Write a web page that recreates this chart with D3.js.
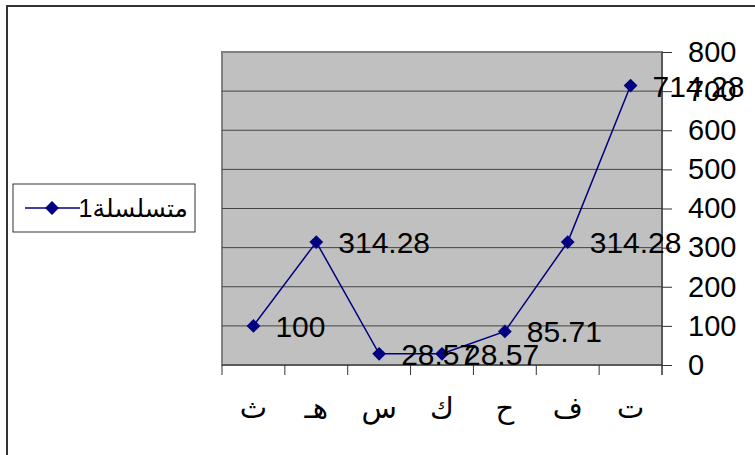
<!DOCTYPE html>
<html>
<head>
<meta charset="utf-8">
<script src="https://cdn.jsdelivr.net/npm/d3@7"></script>
<style>
body{margin:0;background:#fff;}
text{font-family:"Liberation Sans",Arial,"DejaVu Sans",sans-serif;}
</style>
</head>
<body>
<svg id="chart" width="755" height="455"></svg>
<script>
// categories are shown right to left, so ت sits on the far right
var categories = ["ث","هـ","س","ك","ح","ف","ت"];
var values = [100, 314.28, 28.57, 28.57, 85.71, 314.28, 714.28];
var labels = ["100","314.28","28.57","28.57","85.71","314.28","714.28"];
var yTicks = [0,100,200,300,400,500,600,700,800];
var seriesName = "متسلسلة1";

var svg = d3.select("#chart");
var plotLeft = 222, plotRight = 662, plotTop = 52, plotBottom = 365;

// outer chart border (only left/top visible)
svg.append("path")
    .attr("d","M7,455 L7,6 L755,6")
    .attr("fill","none").attr("stroke","#333").attr("stroke-width",2);

var x = d3.scaleBand().domain(categories).range([plotLeft,plotRight]);
var y = d3.scaleLinear().domain([0,800]).range([plotBottom,plotTop]);

svg.append("rect")
    .attr("x",plotLeft).attr("y",plotTop)
    .attr("width",plotRight-plotLeft).attr("height",plotBottom-plotTop)
    .attr("fill","#c0c0c0").attr("stroke","#808080").attr("stroke-width",2);

//gridlines
svg.selectAll(".grid")
    .data(yTicks.slice(1,-1)).enter().append("line")
    .attr("x1",plotLeft).attr("x2",plotRight)
    .attr("y1",function(d){return y(d)}).attr("y2",function(d){return y(d)})
    .attr("stroke","#444").attr("stroke-width",1);

// y axis on right
var yAxis = d3.axisRight(y).tickValues(yTicks).tickSize(10).tickFormat(d3.format("d"));
var gy = svg.append("g").attr("transform","translate("+plotRight+",0)").call(yAxis);
gy.select(".domain").attr("stroke","#333").attr("d","M0,"+plotTop+"V"+(plotBottom+10));
gy.selectAll(".tick line").attr("stroke","#333");
gy.selectAll(".tick text").attr("x",26).attr("fill","#000")
    .style("font-size","29px").style("font-family","'Liberation Sans',Arial,sans-serif");

// x axis
var gx = svg.append("g").attr("transform","translate(0,"+plotBottom+")");
gx.append("line").attr("x1",plotLeft).attr("x2",plotRight).attr("stroke","#333");
var bounds = categories.map(function(c){return x(c)}).concat([plotRight]);
gx.selectAll(".bt").data(bounds).enter().append("line")
    .attr("x1",function(d){return d}).attr("x2",function(d){return d})
    .attr("y1",0).attr("y2",10).attr("stroke","#333");

svg.selectAll(".cat").data(categories).enter().append("text")
    .attr("x",function(d){return x(d)+x.bandwidth()/2})
    .attr("y",418)
    .attr("text-anchor","middle")
    .style("font-size","29px")
    .text(function(d){return d});

// series
var cx = function(d,i){return x(categories[i])+x.bandwidth()/2};
var line = d3.line().x(cx).y(function(d){return y(d)});
svg.append("path").datum(values)
    .attr("d",line).attr("fill","none").attr("stroke","#000080").attr("stroke-width",1.5);

var diamond = d3.symbol().type(d3.symbolSquare).size(95);
svg.selectAll(".pt").data(values).enter().append("path")
    .attr("d",diamond)
    .attr("transform",function(d,i){return "translate("+cx(d,i)+","+y(d)+") rotate(45)"})
    .attr("fill","#000080");

svg.selectAll(".lbl").data(values).enter().append("text")
    .attr("x",function(d,i){return cx(d,i)+22})
    .attr("y",function(d){return y(d)+11})
    .style("font-size","30px")
    .text(function(d,i){return labels[i]});

// legend
var lg = svg.append("g");
lg.append("rect").attr("x",13).attr("y",184).attr("width",182).attr("height",48)
    .attr("fill","#fff").attr("stroke","#333").attr("stroke-width",1);
lg.append("line").attr("x1",25).attr("x2",80).attr("y1",208).attr("y2",208)
    .attr("stroke","#000080").attr("stroke-width",1.5);
lg.append("path").attr("d",diamond).attr("transform","translate(52,208) rotate(45)").attr("fill","#000080");
lg.append("text").attr("x",188).attr("y",217).attr("text-anchor","end")
    .style("font-size","25px").text(seriesName);
</script>
</body>
</html>
